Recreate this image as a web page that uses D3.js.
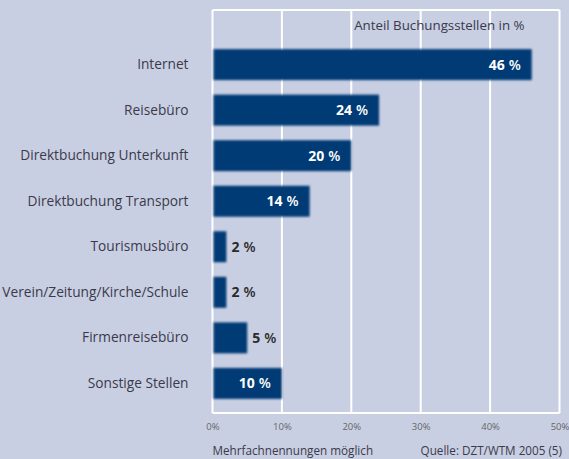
<!DOCTYPE html>
<html><head><meta charset="utf-8">
<script src="https://cdn.jsdelivr.net/npm/d3@7"></script>
<style>body{margin:0;background:#c9cfe3;} svg{display:block;}</style>
</head><body>
<script>
const categories = ["Internet","Reisebüro","Direktbuchung Unterkunft","Direktbuchung Transport","Tourismusbüro","Verein/Zeitung/Kirche/Schule","Firmenreisebüro","Sonstige Stellen"];
const values = [46,24,20,14,2,2,5,10];
const tickValues = [0,10,20,30,40,50];
const title = "Anteil Buchungsstellen in %";
const noteLeft = "Mehrfachnennungen möglich";
const noteRight = "Quelle: DZT/WTM 2005 (5)";

const W=569,H=459;
const svg=d3.select("body").append("svg").attr("width",W).attr("height",H);
svg.append("rect").attr("width",W).attr("height",H).attr("fill","#c9cfe3");
const defs=svg.append("defs");
const f=defs.append("filter").attr("id","blur").attr("x","-10%").attr("y","-20%").attr("width","120%").attr("height","140%");
f.append("feGaussianBlur").attr("stdDeviation",0.9);

const x=d3.scaleLinear().domain([0,50]).range([212.5,559.5]);
const y=d3.scaleBand().domain(categories).range([40,408]).paddingInner(0.32).paddingOuter(0.2);
const plotTop=10,plotBottom=413;
const FONT="Open Sans, sans-serif";

const g=svg.append("g");
g.selectAll("line.grid").data(tickValues).join("line")
 .attr("x1",d=>x(d)).attr("x2",d=>x(d)).attr("y1",plotTop).attr("y2",plotBottom)
 .attr("stroke","#fff").attr("stroke-width",2);
g.append("line").attr("x1",x(0)).attr("x2",x(50)).attr("y1",plotTop).attr("y2",plotTop).attr("stroke","#fff").attr("stroke-width",2);
g.append("line").attr("x1",x(0)).attr("x2",x(50)).attr("y1",plotBottom).attr("y2",plotBottom).attr("stroke","#fff").attr("stroke-width",2);

svg.append("text").attr("x",x(50)-35).attr("y",30).attr("text-anchor","end")
 .attr("font-family",FONT).attr("font-size",13.3).attr("fill","#3a3a4a").text(title);

svg.append("g").selectAll("rect").data(values).join("rect")
 .attr("x",x(0)+1).attr("y",(d,i)=>y(categories[i]))
 .attr("width",d=>x(d)-x(0)-1).attr("height",y.bandwidth())
 .attr("fill","#003a75").attr("filter","url(#blur)");

const vl=svg.append("g").selectAll("text").data(values).join("text")
 .attr("x",d=>d>=10? x(d)-11 : x(d)+5)
 .attr("y",(d,i)=>y(categories[i])+y.bandwidth()/2+5)
 .attr("text-anchor",d=>d>=10?"end":"start")
 .attr("font-family",FONT).attr("font-size",14)
 .attr("fill",d=>d>=10?"#fff":"#2a2a2a");
vl.append("tspan").attr("font-weight","bold").text(d=>d);
vl.append("tspan").attr("font-weight","600").attr("dx",4).text("%");

const ax=svg.append("g").attr("transform",`translate(${x(0)-24},0)`)
 .call(d3.axisLeft(y).tickSize(0).tickPadding(0));
ax.select(".domain").remove();
ax.selectAll("text").attr("font-family",FONT).attr("font-size",13.7).attr("fill","#3a3a4a").attr("dy","0.32em");

const xa=svg.append("g").attr("transform",`translate(0,${plotBottom+2})`)
 .call(d3.axisBottom(x).tickValues(tickValues).tickSize(0).tickPadding(8).tickFormat(d=>d+"%"));
xa.select(".domain").remove();
xa.selectAll("text").attr("font-family",FONT).attr("font-size",9.5).attr("fill","#666");

svg.append("text").attr("x",x(0)).attr("y",455).attr("font-family",FONT).attr("font-size",11.7).attr("fill","#3a3a4a").text(noteLeft);
svg.append("text").attr("x",562).attr("y",455).attr("text-anchor","end").attr("font-family",FONT).attr("font-size",11.7).attr("fill","#3a3a4a").text(noteRight);
</script>
</body></html>
